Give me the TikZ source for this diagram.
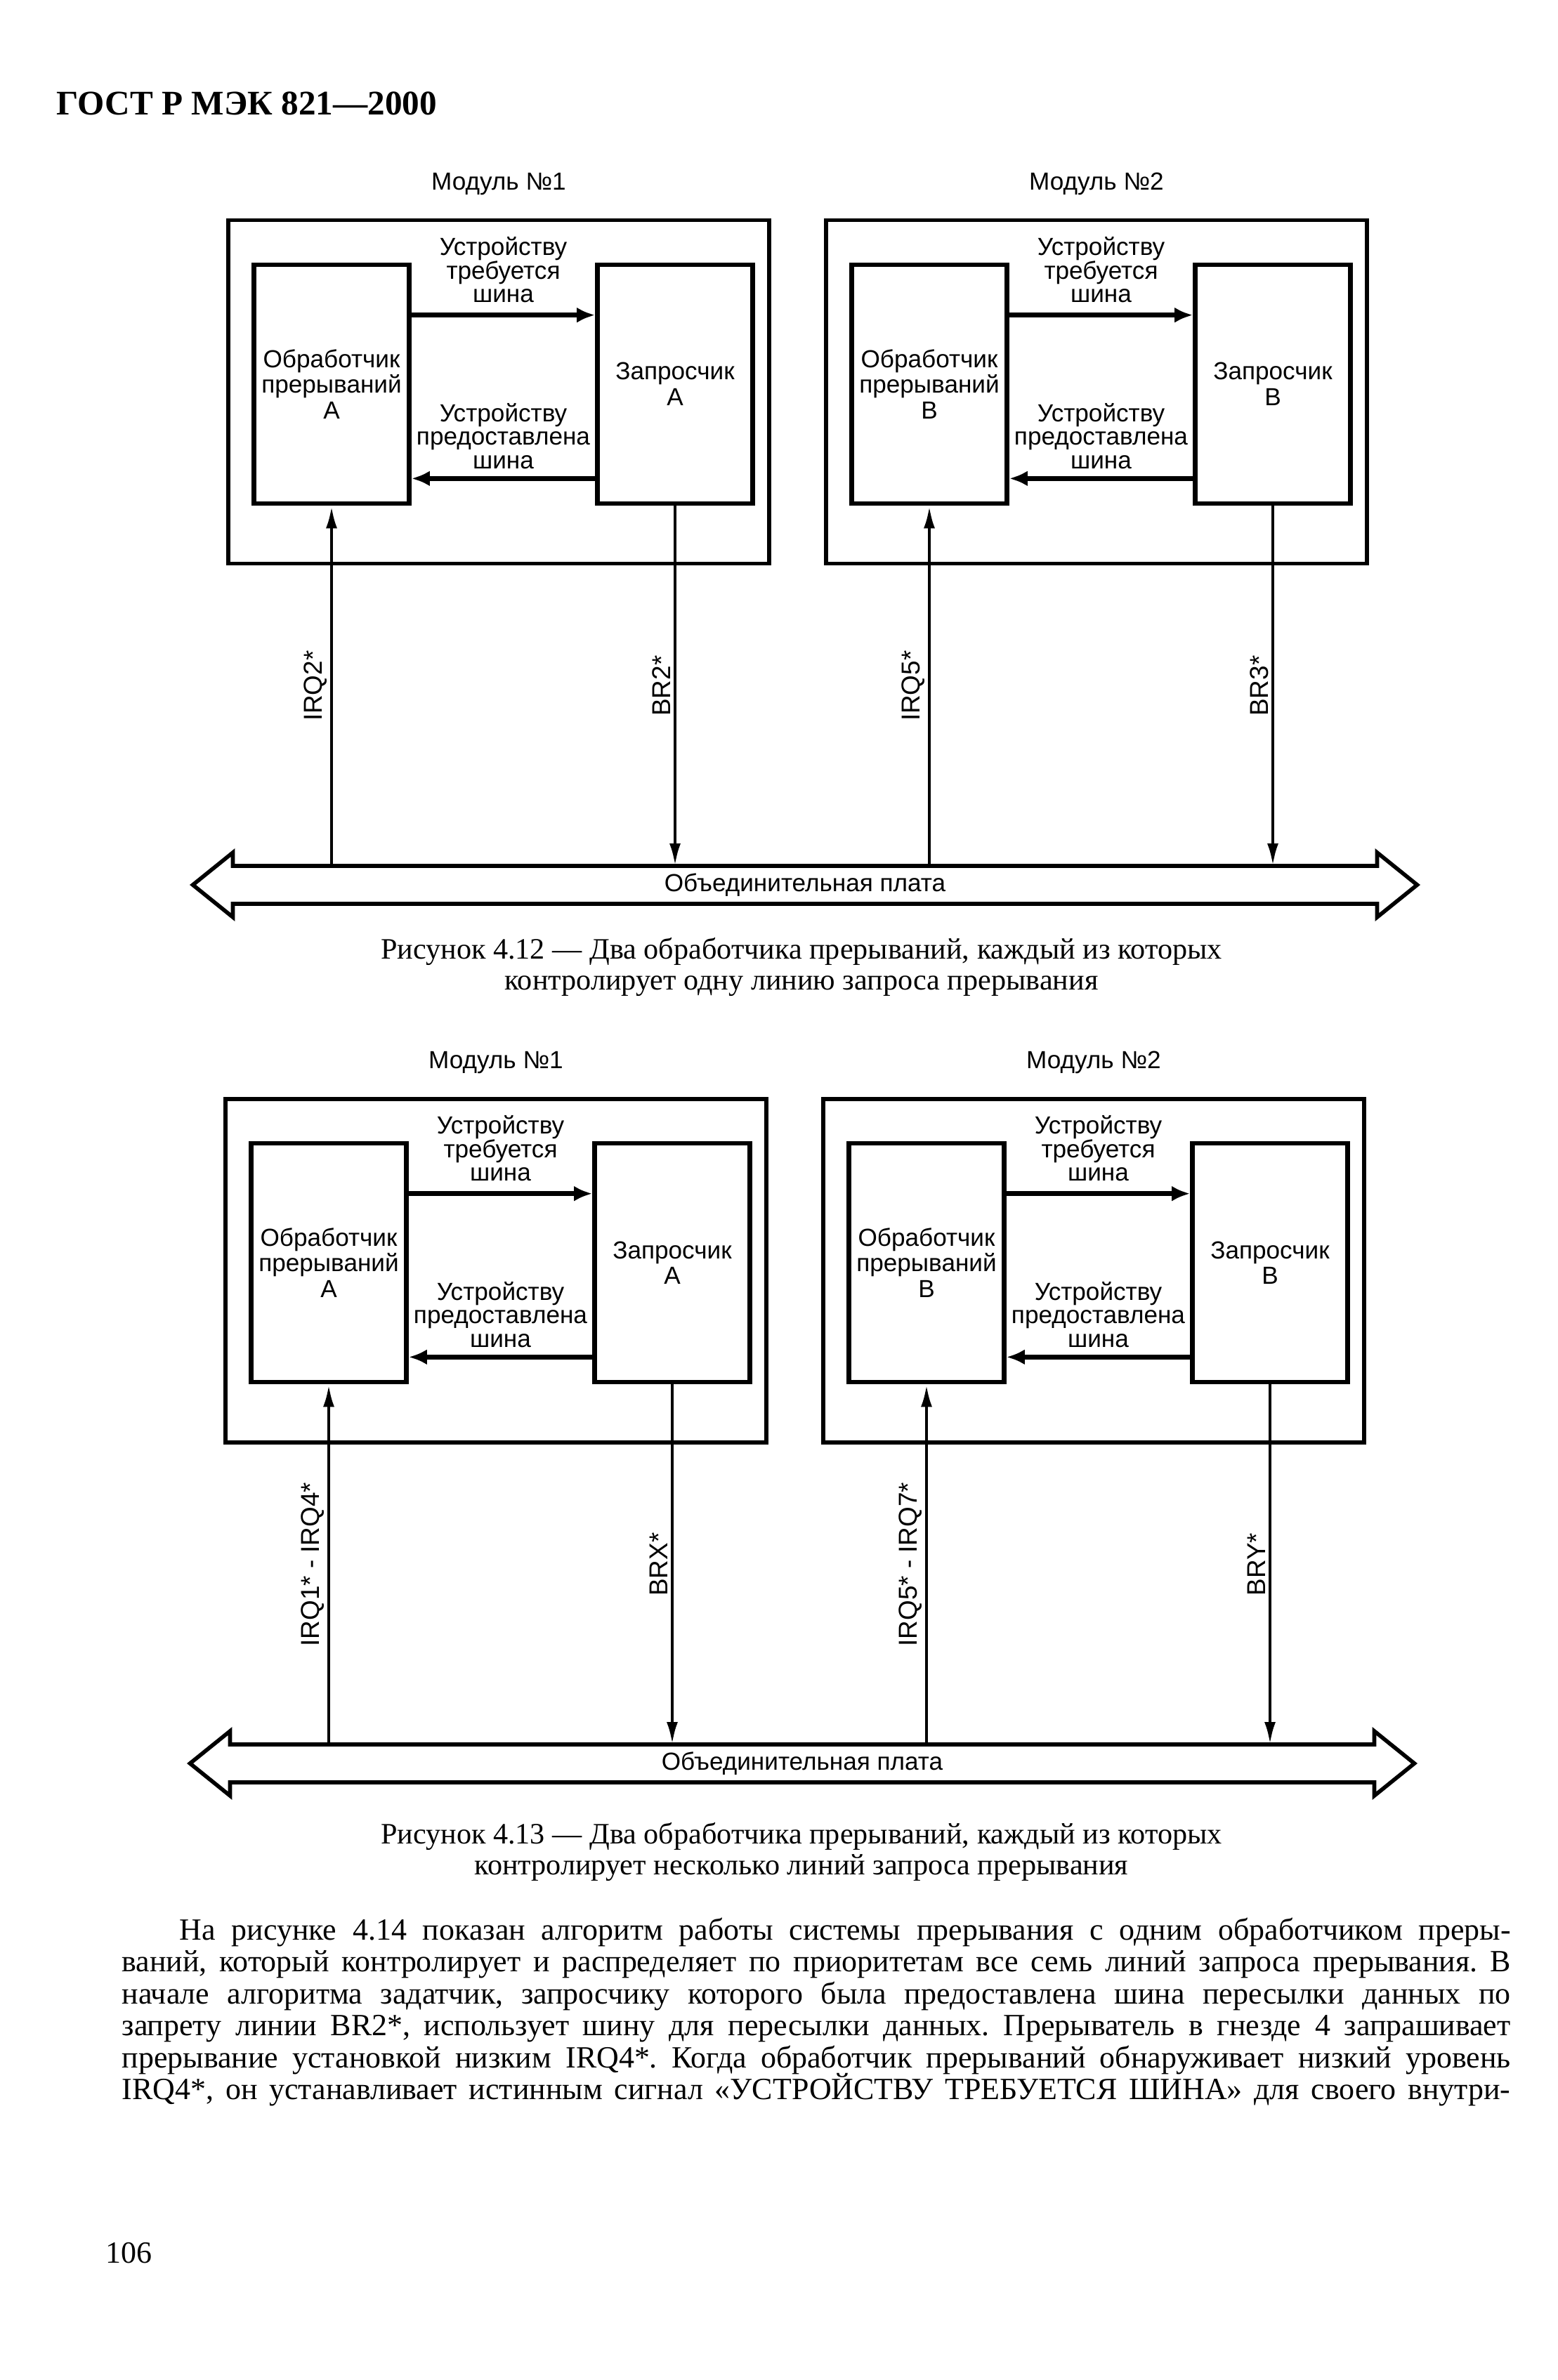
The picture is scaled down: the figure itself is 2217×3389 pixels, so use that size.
\documentclass[tikz,border=0pt]{standalone}
\usepackage{fontspec}
\setmainfont{Liberation Serif}
\newfontfamily\arial{Liberation Sans}
\usetikzlibrary{arrows.meta}
\frenchspacing

\tikzset{
  module/.style={draw, line width=1.7pt, minimum width=77mm, minimum height=48.9mm, inner sep=0pt},
  unit/.style={draw, line width=1.9pt, minimum width=22.1mm, minimum height=34mm, inner sep=0pt,
    align=center, font=\arial\fontsize{10}{10.4}\selectfont},
  modlbl/.style={inner sep=0pt, font=\arial\fontsize{10}{12}\selectfont},
  lbl/.style={align=center, inner sep=0pt, font=\arial\fontsize{10}{9.6}\selectfont},
  sig/.style={line width=1.9pt, -{Latex[length=2.6mm,width=2.2mm]}},
  wire/.style={line width=1.3pt},
  wtip/.style={-{Latex[length=3.2mm,width=1.6mm]}},
  vlbl/.style={font=\arial\fontsize{10.5}{12}\selectfont, rotate=90, anchor=south, inner sep=0.4mm},
  busline/.style={line width=1.6pt, line join=miter},
  caption/.style={align=center, inner sep=0pt, font=\fontsize{12}{12.5}\selectfont},
  body/.style={anchor=base west, inner sep=0pt, font=\fontsize{12.5}{13}\selectfont}
}

\begin{document}
\begin{tikzpicture}[x=0.1mm, y=-0.1mm]
    \useasboundingbox (0,0) rectangle (2217,3389);
    \node[anchor=west, inner sep=0pt, font=\bfseries\fontsize{14}{16}\selectfont] (head) at (80,147) {ГОСТ Р МЭК 821—2000};

    % Fig. 4.12
    \begin{scope}
        \foreach \m/\dx/\L in {1/0/А,2/851/В}{
            \begin{scope}[shift={(\dx,0)}]
                \node[module] (m\m) at (710,558) {};
                \node[modlbl] (t\m) at (710,262) {Модуль №\m};
                \node[unit] (h\m) at (472,547) {Обработчик\\прерываний\\\L};
                \node[unit] (r\m) at (961,547) {Запросчик\\\L};
                \draw[sig] ([yshift=-7.5mm]h\m.north east) -- ([yshift=-7.5mm]r\m.north west)
                    node[lbl, midway, above=1.4mm] (q\m) {Устройству\\требуется\\шина};
                \draw[sig] ([yshift=3.9mm]r\m.south west) -- ([yshift=3.9mm]h\m.south east)
                    node[lbl, midway, above=1mm] (g\m) {Устройству\\предоставлена\\шина};
            \end{scope}
        }
        \node[lbl, minimum width=162.9mm, minimum height=5.4mm, outer sep=0pt] (bus) at (1146,1260) {Объединительная плата};
        \draw[busline] (bus.north west) -- (bus.north east) -- ++(0,-19) -- ++(57,46) -- ++(-57,46) -- ++(0,-19)
            -- (bus.south west) -- ++(0,19) -- ++(-57,-46) -- ++(57,-46) -- cycle;
        \draw[wire, wtip] (h1.south |- bus.north) -- (h1.south) node[vlbl, midway] (i1) {IRQ2*};
        \draw[wire, wtip] (r1.south) -- (r1.south |- bus.north) node[vlbl, midway] (b1) {BR2*};
        \draw[wire, wtip] (h2.south |- bus.north) -- (h2.south) node[vlbl, midway] (i2) {IRQ5*};
        \draw[wire, wtip] (r2.south) -- (r2.south |- bus.north) node[vlbl, midway] (b2) {BR3*};
    \end{scope}
    \node[caption] (c1) at (1141,1377) {Рисунок 4.12 — Два обработчика прерываний, каждый из которых\\контролирует одну линию запроса прерывания};

    % Fig. 4.13
    \begin{scope}[shift={(-4,1251)}]
        \foreach \m/\dx/\L in {1/0/А,2/851/В}{
            \begin{scope}[shift={(\dx,0)}]
                \node[module] (m\m) at (710,558) {};
                \node[modlbl] (t\m) at (710,262) {Модуль №\m};
                \node[unit] (h\m) at (472,547) {Обработчик\\прерываний\\\L};
                \node[unit] (r\m) at (961,547) {Запросчик\\\L};
                \draw[sig] ([yshift=-7.5mm]h\m.north east) -- ([yshift=-7.5mm]r\m.north west)
                    node[lbl, midway, above=1.4mm] (q\m) {Устройству\\требуется\\шина};
                \draw[sig] ([yshift=3.9mm]r\m.south west) -- ([yshift=3.9mm]h\m.south east)
                    node[lbl, midway, above=1mm] (g\m) {Устройству\\предоставлена\\шина};
            \end{scope}
        }
        \node[lbl, minimum width=162.9mm, minimum height=5.4mm, outer sep=0pt] (bus) at (1146,1260) {Объединительная плата};
        \draw[busline] (bus.north west) -- (bus.north east) -- ++(0,-19) -- ++(57,46) -- ++(-57,46) -- ++(0,-19)
            -- (bus.south west) -- ++(0,19) -- ++(-57,-46) -- ++(57,-46) -- cycle;
        \draw[wire, wtip] (h1.south |- bus.north) -- (h1.south) node[vlbl, midway] (i1) {IRQ1* - IRQ4*};
        \draw[wire, wtip] (r1.south) -- (r1.south |- bus.north) node[vlbl, midway] (b1) {BRX*};
        \draw[wire, wtip] (h2.south |- bus.north) -- (h2.south) node[vlbl, midway] (i2) {IRQ5* - IRQ7*};
        \draw[wire, wtip] (r2.south) -- (r2.south |- bus.north) node[vlbl, midway] (b2) {BRY*};
    \end{scope}
    \node[caption] (c2) at (1141,2637) {Рисунок 4.13 — Два обработчика прерываний, каждый из которых\\контролирует несколько линий запроса прерывания};

    % text below
    \node[body] (p1) at (255,2762) {\makebox[189.5mm][s]{На рисунке 4.14 показан алгоритм работы системы прерывания с одним обработчиком преры-}};
    \node[body] (p2) at (173,2807) {\makebox[197.7mm][s]{ваний, который контролирует и распределяет по приоритетам все семь линий запроса прерывания. В}};
    \node[body] (p3) at (173,2853) {\makebox[197.7mm][s]{начале алгоритма задатчик, запросчику которого была предоставлена шина пересылки данных по}};
    \node[body] (p4) at (173,2898) {\makebox[197.7mm][s]{запрету линии BR2*, использует шину для пересылки данных. Прерыватель в гнезде 4 запрашивает}};
    \node[body] (p5) at (173,2944) {\makebox[197.7mm][s]{прерывание установкой низким IRQ4*. Когда обработчик прерываний обнаруживает низкий уровень}};
    \node[body] (p6) at (173,2989) {\makebox[197.7mm][s]{IRQ4*, он устанавливает истинным сигнал «УСТРОЙСТВУ ТРЕБУЕТСЯ ШИНА» для своего внутри-}};
    \node[body] (pg) at (150,3222) {106};
\end{tikzpicture}
\end{document}
